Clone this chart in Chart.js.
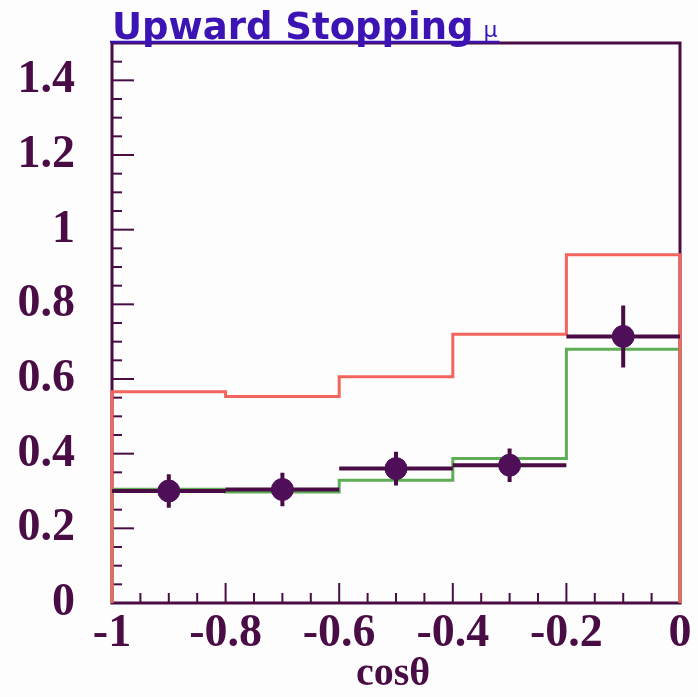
<!DOCTYPE html>
<html><head><meta charset="utf-8">
<script src="https://cdn.jsdelivr.net/npm/chart.js@4/dist/chart.umd.min.js"></script>
<style>html,body{margin:0;padding:0;background:#fdfdfe;} #wrap{width:698px;height:697px;position:relative;}</style>
</head><body><div id="wrap"><canvas id="c"></canvas></div>
<script>
// ---- data ----
const binEdges   = [-1, -0.8, -0.6, -0.4, -0.2, 0];
const redMC      = [0.566, 0.553, 0.606, 0.720, 0.933];
const greenMC    = [0.305, 0.297, 0.329, 0.387, 0.680];
const dataVals   = [0.300, 0.304, 0.360, 0.369, 0.714];
const dataErr    = [0.045, 0.045, 0.045, 0.045, 0.083];
const xTickVals  = [-1, -0.8, -0.6, -0.4, -0.2, 0];
const xTickLabels= ['-1', '-0.8', '-0.6', '-0.4', '-0.2', '0'];
const yTickVals  = [0, 0.2, 0.4, 0.6, 0.8, 1, 1.2, 1.4];
const yTickLabels= ['0', '0.2', '0.4', '0.6', '0.8', '1', '1.2', '1.4'];
const titleText  = 'Upward Stopping';
const titleSym   = 'μ';
const xTitleText = 'cosθ';

const PURPLE = '#4a0c45';
const RED = '#f2645c';
const GREEN = '#5fae55';
const TITLE_BLUE = '#3c14b4';

function histPoints(vals) {
  const pts = [{x: binEdges[0], y: 0}];
  vals.forEach((v, i) => pts.push({x: binEdges[i], y: v}));
  const last = binEdges[binEdges.length - 1];
  pts.push({x: last, y: vals[vals.length - 1]});
  pts.push({x: last, y: 0});
  return pts;
}
function dataBars() {
  const pts = [];
  dataVals.forEach((v, i) => {
    pts.push({x: binEdges[i], y: v}, {x: binEdges[i + 1], y: v}, {x: binEdges[i + 1], y: null});
  });
  return pts;
}
function errBars() {
  const pts = [];
  dataVals.forEach((v, i) => {
    const c = (binEdges[i] + binEdges[i + 1]) / 2;
    pts.push({x: c, y: v - dataErr[i]}, {x: c, y: v + dataErr[i]}, {x: c, y: null});
  });
  return pts;
}
function markers() {
  return dataVals.map((v, i) => ({x: (binEdges[i] + binEdges[i + 1]) / 2, y: v}));
}

const decor = {
  id: 'decor',
  beforeDatasetsDraw(chart) {
    const {ctx, chartArea: a, scales: {x, y}} = chart;
    ctx.save();
    ctx.strokeStyle = PURPLE;
    ctx.lineWidth = 3;
    ctx.strokeRect(a.left, a.top, a.right - a.left, a.bottom - a.top);
    ctx.lineWidth = 2;
    // left axis ticks (inside)
    for (let k = 0; k <= 30; k++) {
      const py = y.getPixelForValue(k * 0.05);
      const len = (k % 4 === 0) ? 22 : 10;
      ctx.beginPath(); ctx.moveTo(a.left, py); ctx.lineTo(a.left + len, py); ctx.stroke();
    }
    // bottom axis ticks (inside)
    for (let k = 0; k <= 20; k++) {
      const px = x.getPixelForValue(-1 + k * 0.05);
      const len = (k % 4 === 0) ? 20 : 10;
      ctx.beginPath(); ctx.moveTo(px, a.bottom); ctx.lineTo(px, a.bottom - len); ctx.stroke();
    }
    ctx.restore();
  },
  afterDraw(chart) {
    const {ctx, chartArea: a} = chart;
    ctx.save();
    // title
    ctx.fillStyle = TITLE_BLUE;
    ctx.font = 'bold 37px "DejaVu Sans"';
    ctx.textBaseline = 'alphabetic';
    ctx.textAlign = 'left';
    ctx.fillText(titleText, 112, 39);
    const w = ctx.measureText(titleText).width;
    ctx.font = '22px "DejaVu Sans"';
    ctx.fillText(titleSym, 112 + w + 10, 37);
    const w2 = ctx.measureText(titleSym).width;
    ctx.strokeStyle = TITLE_BLUE;
    ctx.lineWidth = 2.5;
    ctx.beginPath(); ctx.moveTo(110, 42); ctx.lineTo(112 + w + 12 + w2, 42); ctx.stroke();
    // x axis title
    ctx.fillStyle = PURPLE;
    ctx.font = 'bold 40px "Liberation Serif"';
    ctx.textAlign = 'center';
    ctx.fillText(xTitleText, (a.left + a.right) / 2 - 3, 685);
    ctx.restore();
  }
};

const tickFont = {family: '"Liberation Serif"', weight: 'bold', size: 46};

new Chart(document.getElementById('c'), {
  type: 'scatter',
  data: {
    datasets: [
      {label: 'data', data: markers(), pointRadius: 11, pointBackgroundColor: '#4e0f58', pointBorderColor: '#4e0f58', showLine: false, clip: false},
      {label: 'err', data: errBars(), showLine: true, spanGaps: false, pointRadius: 0, borderColor: PURPLE, borderWidth: 4, clip: false},
      {label: 'bars', data: dataBars(), showLine: true, spanGaps: false, pointRadius: 0, borderColor: PURPLE, borderWidth: 4, clip: false},
      {label: 'red', data: histPoints(redMC), showLine: true, stepped: 'before', pointRadius: 0, borderColor: RED, borderWidth: 3, clip: false},
      {label: 'green', data: histPoints(greenMC), showLine: true, stepped: 'before', pointRadius: 0, borderColor: GREEN, borderWidth: 3, clip: false}
    ]
  },
  options: {
    responsive: true,
    maintainAspectRatio: false,
    animation: false,
    devicePixelRatio: 1,
    layout: {padding: {left: 0, right: 18, top: 43, bottom: 0}},
    plugins: {legend: {display: false}, tooltip: {enabled: false}, title: {display: false}},
    scales: {
      x: {
        type: 'linear', min: -1, max: 0,
        grid: {display: false, drawTicks: false},
        border: {display: false},
        afterBuildTicks: s => { s.ticks = xTickVals.map(v => ({value: v})); },
        afterFit: s => { s.height = 94; s.paddingLeft = 0; s.paddingRight = 0; },
        ticks: {
          font: tickFont, color: PURPLE, padding: 4, maxRotation: 0, autoSkip: false,
          callback: (v) => { const i = xTickVals.findIndex(t => Math.abs(t - v) < 1e-9); return i >= 0 ? xTickLabels[i] : ''; }
        }
      },
      y: {
        type: 'linear', min: 0, max: 1.5,
        grid: {display: false, drawTicks: false},
        border: {display: false},
        afterBuildTicks: s => { s.ticks = yTickVals.map(v => ({value: v})); },
        afterFit: s => { s.width = 112; s.paddingTop = 0; s.paddingBottom = 0; },
        ticks: {
          font: tickFont, color: PURPLE, padding: 37, autoSkip: false,
          callback: (v) => { const i = yTickVals.findIndex(t => Math.abs(t - v) < 1e-9); return i >= 0 ? yTickLabels[i] : ''; }
        }
      }
    }
  },
  plugins: [decor]
});
</script>
</body></html>
